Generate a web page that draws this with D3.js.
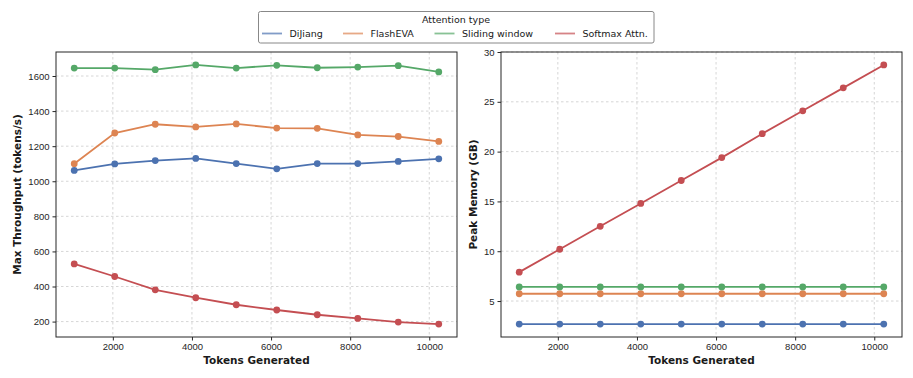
<!DOCTYPE html>
<html>
<head>
<meta charset="utf-8">
<script src="https://cdn.jsdelivr.net/npm/d3@7"></script>
<style>
  body { margin: 0; background: #fff; }
  svg { font-family: "DejaVu Sans", sans-serif; }
  .tick text { fill: #262626; font-size: 9.5px; }
  .tick line { stroke: #262626; }
  .domain { display: none; }
  .grid line { stroke: #cccccc; stroke-dasharray: 2.5,2.5; stroke-width: 0.8; }
  .axis-label { font-weight: bold; font-size: 10.5px; fill: #1a1a1a; }
</style>
</head>
<body>
<div id="chart-area"></div>
<script>
// tokens generated (x values)
const tokens = [1024, 2048, 3072, 4096, 5120, 6144, 7168, 8192, 9216, 10240];

const seriesNames = ['DiJiang', 'FlashEVA', 'Sliding window', 'Softmax Attn.'];
const colors = ['#4C72B0', '#DD8452', '#55A868', '#C44E52'];

// throughput (tokens/s)
const thrDiJiang = [1062, 1099, 1118, 1130, 1101, 1071, 1101, 1101, 1113, 1128];
const thrFlashEVA = [1100, 1275, 1325, 1310, 1327, 1303, 1302, 1264, 1255, 1227];
const thrSliding = [1645, 1645, 1636, 1663, 1645, 1661, 1647, 1651, 1659, 1623];
const thrSoftmax = [529, 457, 381, 336, 296, 266, 239, 218, 197, 186];

// peak memory (GB)
const memDiJiang = [2.69, 2.69, 2.69, 2.69, 2.69, 2.69, 2.69, 2.69, 2.69, 2.69];
const memFlashEVA = [5.73, 5.73, 5.73, 5.73, 5.73, 5.73, 5.73, 5.73, 5.73, 5.73];
const memSliding = [6.42, 6.42, 6.42, 6.42, 6.42, 6.42, 6.42, 6.42, 6.42, 6.42];
const memSoftmax = [7.9, 10.2, 12.5, 14.8, 17.1, 19.4, 21.8, 24.1, 26.4, 28.7];

const xTicks = [2000, 4000, 6000, 8000, 10000];
const thrTicks = [200, 400, 600, 800, 1000, 1200, 1400, 1600];
const memTicks = [5, 10, 15, 20, 25, 30];

const W = 913, H = 378;
const svg = d3.select('#chart-area').append('svg')
  .attr('width', W)
  .attr('height', H);

// matplotlib-like 5% margins
function padded(vals) {
  const [lo, hi] = d3.extent(vals);
  const m = (hi - lo) * 0.05;
  return [lo - m, hi + m];
}

function panel(opts) {
  const { left, top, width, height, series, yTicks, yLabel } = opts;
  const g = svg.append('g').attr('transform', `translate(${left},${top})`);

  const x = d3.scaleLinear().domain(padded(tokens)).range([0, width]);
  const y = d3.scaleLinear().domain(padded(series.flat())).range([height, 0]);

  // grid
  g.append('g').attr('class', 'grid')
    .selectAll('line.gx').data(xTicks).enter().append('line')
    .attr('x1', d => x(d)).attr('x2', d => x(d))
    .attr('y1', 0).attr('y2', height);
  g.append('g').attr('class', 'grid')
    .selectAll('line.gy').data(yTicks).enter().append('line')
    .attr('x1', 0).attr('x2', width)
    .attr('y1', d => y(d)).attr('y2', d => y(d));

  // lines and markers
  const line = d3.line().x((d, i) => x(tokens[i])).y(d => y(d));
  series.forEach(function (s, k) {
    g.append('path')
      .attr('d', line(s))
      .attr('fill', 'none')
      .attr('stroke', colors[k])
      .attr('stroke-width', 1.8);
    g.selectAll('circle.s' + k).data(s).enter().append('circle')
      .attr('cx', (d, i) => x(tokens[i]))
      .attr('cy', d => y(d))
      .attr('r', 3.4)
      .attr('fill', colors[k]);
  });

  // axes
  g.append('g')
    .attr('transform', `translate(0,${height})`)
    .call(d3.axisBottom(x).tickValues(xTicks).tickSize(3.5).tickPadding(3).tickFormat(d3.format('d')));
  g.append('g')
    .call(d3.axisLeft(y).tickValues(yTicks).tickSize(3.5).tickPadding(3).tickFormat(d3.format('d')));

  // frame
  g.append('rect')
    .attr('width', width).attr('height', height)
    .attr('fill', 'none').attr('stroke', '#262626').attr('stroke-width', 1);

  g.append('text')
    .attr('class', 'axis-label')
    .attr('x', width / 2)
    .attr('y', height + 27)
    .attr('text-anchor', 'middle')
    .text('Tokens Generated');

  g.append('text')
    .attr('class', 'axis-label')
    .attr('transform', `translate(${opts.yLabelX},${height / 2}) rotate(-90)`)
    .attr('text-anchor', 'middle')
    .text(yLabel);
}

panel({
  left: 56, top: 52, width: 401, height: 285,
  series: [thrDiJiang, thrFlashEVA, thrSliding, thrSoftmax],
  yTicks: thrTicks, yLabel: 'Max Throughput (tokens/s)', yLabelX: -35
});

panel({
  left: 501, top: 52, width: 401, height: 285,
  series: [memDiJiang, memFlashEVA, memSliding, memSoftmax],
  yTicks: memTicks, yLabel: 'Peak Memory (GB)', yLabelX: -24
});

// legend
const legend = svg.append('g');
legend.append('rect')
  .attr('x', 258.5).attr('y', 11.5)
  .attr('width', 395.5).attr('height', 31.5)
  .attr('rx', 2)
  .attr('fill', '#fff')
  .attr('stroke', '#888').attr('stroke-width', 1);
legend.append('text')
  .attr('x', 456).attr('y', 23)
  .attr('text-anchor', 'middle')
  .attr('font-size', '9.5px')
  .attr('fill', '#1a1a1a')
  .text('Attention type');
const legendX = [262, 343, 434.5, 555];
seriesNames.forEach(function (name, k) {
  const lx = legendX[k];
  legend.append('line')
    .attr('x1', lx).attr('x2', lx + 20)
    .attr('y1', 33.5).attr('y2', 33.5)
    .attr('stroke', colors[k])
    .attr('stroke-opacity', 0.7)
    .attr('stroke-width', 1.8);
  legend.append('text')
    .attr('x', lx + 27.5).attr('y', 37)
    .attr('font-size', '9.5px')
    .attr('fill', '#1a1a1a')
    .text(name);
});
</script>
</body>
</html>
